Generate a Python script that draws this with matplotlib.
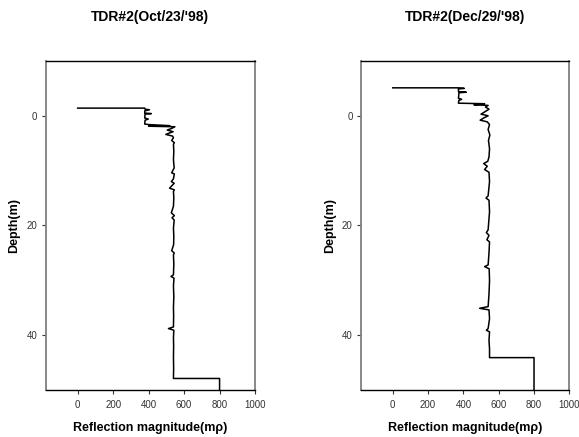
import numpy as np
import matplotlib.pyplot as plt

plt.rcParams['font.family'] = ['Liberation Sans', 'DejaVu Sans']

# TDR reflection profiles, (depth in m, reflection magnitude in m-rho)
oct_trace = [
    (-1.4, 0), (-1.4, 378), (-1.2, 380), (-1.1, 405), (-0.9, 378), (-0.5, 378),
    (-0.4, 415), (-0.3, 380), (0.4, 378), (0.6, 398), (0.8, 380), (1.5, 378),
    (1.6, 400), (1.8, 520), (1.9, 400), (2.0, 548), (2.3, 530), (2.6, 505),
    (2.9, 538), (3.1, 520), (3.4, 497), (3.7, 535), (4.0, 540), (4.5, 530),
    (4.9, 545), (5.2, 540), (6.5, 542), (8.0, 540), (9.5, 544), (10.4, 530),
    (10.6, 545), (11.5, 540), (12.0, 528), (12.3, 544), (13.2, 518), (13.5, 545),
    (13.8, 540), (15.0, 542), (16.5, 540), (17.7, 528), (18.2, 545), (18.6, 532),
    (19.0, 544), (20.5, 540), (22.0, 542), (23.5, 541), (24.6, 530), (25.0, 544),
    (25.4, 540), (27.0, 542), (29.0, 540), (29.3, 526), (29.6, 543), (31.0, 540),
    (33.0, 542), (35.0, 540), (36.5, 541), (38.5, 540), (38.8, 512), (39.1, 542),
    (40.5, 540), (42.0, 541), (44.0, 540), (46.0, 541), (47.9, 540), (47.9, 800),
    (50.0, 800),
]
dec_trace = [
    (-5.1, 0), (-5.1, 375), (-5.0, 405), (-4.9, 372), (-4.4, 372), (-4.3, 416),
    (-4.2, 375), (-3.2, 372), (-3.0, 390), (-2.8, 374), (-2.3, 372), (-2.2, 520),
    (-2.0, 460), (-1.9, 540), (-1.6, 525), (-1.2, 545), (-0.8, 525), (-0.3, 500),
    (0.0, 540), (0.4, 515), (0.8, 495), (1.1, 535), (1.6, 548), (2.5, 540),
    (3.5, 550), (4.5, 542), (6.0, 548), (7.5, 545), (8.3, 538), (8.7, 515),
    (9.2, 535), (9.8, 520), (10.3, 545), (12.0, 548), (14.6, 540), (15.0, 528),
    (15.4, 545), (17.5, 548), (20.8, 540), (21.3, 530), (21.8, 545), (22.6, 533),
    (23.0, 548), (25.0, 545), (27.2, 540), (27.5, 520), (27.9, 546), (30.0, 548),
    (32.5, 545), (34.8, 540), (35.1, 492), (35.4, 545), (37.0, 548), (38.8, 540),
    (39.1, 530), (39.4, 548), (41.0, 545), (42.5, 548), (44.1, 548), (44.1, 800),
    (50.0, 800),
]
titles = ["TDR#2(Oct/23/'98)", "TDR#2(Dec/29/'98)"]
x_ticks = [0, 200, 400, 600, 800, 1000]
y_ticks = [0, 20, 40]

fig = plt.figure(figsize=(5.79, 4.37), dpi=100)
positions = [[0.079, 0.1076, 0.3615, 0.7529], [0.6235, 0.1076, 0.3598, 0.7529]]

for pos, trace, title in zip(positions, [oct_trace, dec_trace], titles):
    ax = fig.add_axes(pos)
    depth, refl = np.array(trace).T
    ax.plot(refl, depth, color='black', lw=1.1)
    ax.set_xlim(-180, 1000)
    ax.set_ylim(50, -10)
    ax.set_xticks(x_ticks)
    ax.set_yticks(y_ticks)
    ax.tick_params(labelsize=7, length=3, width=0.8, colors='#333333', pad=3)
    ax.tick_params(axis='x', pad=4.5)
    for side in ['left', 'right']:
        ax.spines[side].set_color('#7f7f7f')
        ax.spines[side].set_linewidth(1.3)
    for side in ['top', 'bottom']:
        ax.spines[side].set_color('black')
        ax.spines[side].set_linewidth(1.0)
    ax.set_title(title, fontsize=10, fontweight='bold', pad=29)
    ax.set_xlabel('Reflection magnitude(m\u03c1)', fontsize=9, fontweight='bold', labelpad=8)
    ax.set_ylabel('Depth(m)', fontsize=9, fontweight='bold', labelpad=4.5)

plt.savefig('out.png', dpi=100)
